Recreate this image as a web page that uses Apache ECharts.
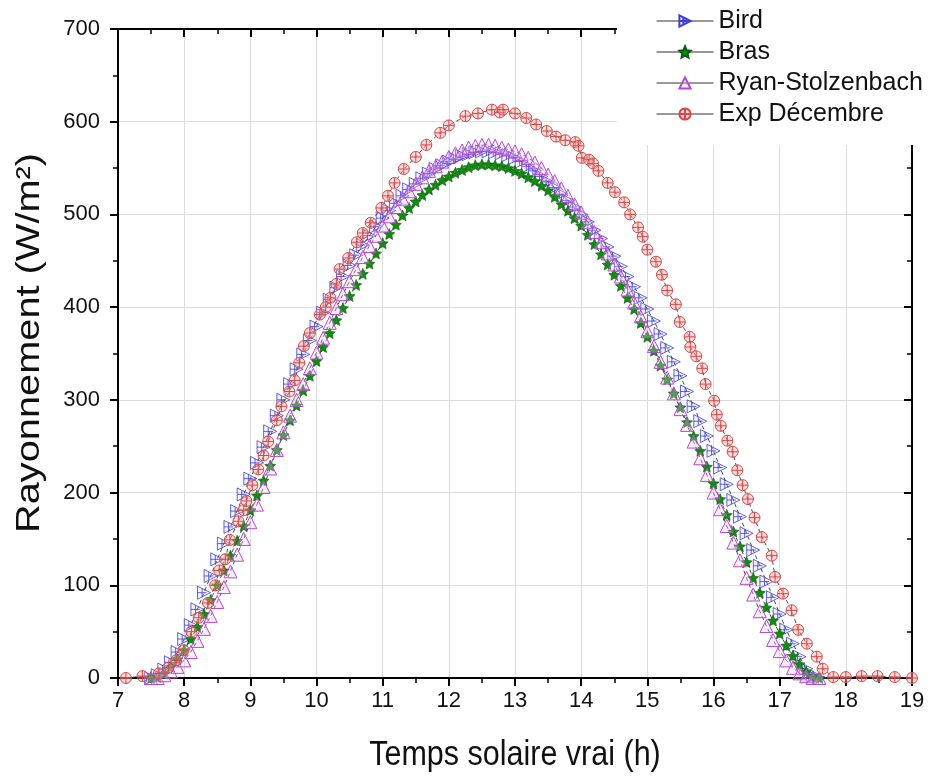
<!DOCTYPE html>
<html>
<head>
<meta charset="utf-8">
<script src="https://cdn.jsdelivr.net/npm/echarts@6/dist/echarts.min.js"></script>
<style>
html,body{margin:0;padding:0;background:#fff;}
#chart{width:928px;height:776px;}
</style>
</head>
<body>
<div id="chart"></div>
<script>
// ---- Data ----
var modelHours = [7.5,7.6,7.7,7.8,7.9,8.0,8.1,8.2,8.3,8.4,
  8.5,8.6,8.7,8.8,8.9,9.0,9.1,9.2,9.3,9.4,
  9.5,9.6,9.7,9.8,9.9,10.0,10.1,10.2,10.3,10.4,
  10.5,10.6,10.7,10.8,10.9,11.0,11.1,11.2,11.3,11.4,
  11.5,11.6,11.7,11.8,11.9,12.0,12.1,12.2,12.3,12.4,
  12.5,12.6,12.7,12.8,12.9,13.0,13.1,13.2,13.3,13.4,
  13.5,13.6,13.7,13.8,13.9,14.0,14.1,14.2,14.3,14.4,
  14.5,14.6,14.7,14.8,14.9,15.0,15.1,15.2,15.3,15.4,
  15.5,15.6,15.7,15.8,15.9,16.0,16.1,16.2,16.3,16.4,
  16.5,16.6,16.7,16.8,16.9,17.0,17.1,17.2,17.3,17.4,
  17.5,17.6];

var birdValues = [0,3,9,17,28,42,57,74,92,110,
  128,145,163,180,198,215,232,249,266,283,
  300,317,333,349,364,379,394,408,421,433,
  445,456,467,477,487,496,504,512,520,527,
  533,539,544,549,553,557,560,563,565,567,
  568,568,567,566,564,561,557,552,547,541,
  535,529,522,515,508,500,492,483,474,465,
  455,444,433,422,410,398,385,371,356,341,
  326,309,293,277,261,245,227,209,192,174,
  156,138,121,104,87,69,52,37,23,10,
  2,0];

var brasValues = [0,1,5,12,20,30,42,55,69,84,
  100,116,132,148,164,181,197,213,229,246,
  262,278,294,310,326,342,357,372,386,399,
  412,424,436,447,458,469,479,489,499,507,
  514,521,527,532,537,541,545,548,551,553,
  554,554,553,552,550,547,544,540,536,531,
  526,519,511,504,496,488,478,468,457,446,
  435,423,410,398,383,368,353,337,322,307,
  292,276,261,245,228,210,193,176,158,142,
  125,108,92,76,62,48,35,24,15,7,
  2,0];

var ryanValues = [0,0,3,7,12,19,28,40,53,67,
  82,98,115,133,150,168,187,206,226,246,
  265,283,300,317,334,351,367,383,399,414,
  428,441,454,466,477,488,498,508,517,525,
  533,540,547,552,557,562,566,569,572,574,
  575,575,574,572,570,568,565,561,556,550,
  543,536,528,520,511,502,492,481,470,458,
  446,433,419,405,390,374,358,341,324,307,
  290,273,255,237,219,200,182,164,146,127,
  108,90,72,56,41,29,19,11,5,2,
  0,0];

var expHours = [7.12,7.37,7.62,7.76,7.88,7.99,8.11,8.22,8.36,8.47,
  8.53,8.62,8.69,8.82,8.9,8.94,9.03,9.12,9.2,9.27,
  9.4,9.47,9.59,9.67,9.74,9.81,9.9,10.05,10.14,10.21,
  10.3,10.35,10.48,10.61,10.7,10.82,10.98,11.08,11.18,11.32,
  11.5,11.66,11.87,12.0,12.25,12.44,12.65,12.77,12.82,13.0,
  13.17,13.32,13.48,13.62,13.76,13.91,13.96,14.01,14.12,14.18,
  14.26,14.4,14.51,14.65,14.74,14.86,14.93,15.0,15.13,15.22,
  15.3,15.43,15.49,15.64,15.65,15.74,15.83,15.88,16.01,16.05,
  16.11,16.21,16.29,16.36,16.44,16.52,16.62,16.73,16.88,16.93,
  17.05,17.18,17.28,17.41,17.56,17.65,17.81,18.0,18.24,18.48,
  18.74,19.0];

var expValues = [0,2,5,11,19,30,50,65,81,100,
  116,128,149,169,181,191,208,225,240,255,
  278,293,309,321,340,358,372,392,400,410,
  425,441,453,470,480,491,507,520,534,549,
  562,575,588,596,606,609,613,610,613,609,
  604,597,590,584,580,578,574,561,559,555,
  547,534,524,513,500,486,476,462,449,435,
  418,403,384,368,357,347,334,317,299,284,
  272,256,244,224,208,193,173,152,132,109,
  91,73,52,37,23,10,1,1,2,2,
  1,0];

var seriesNames = ['Bird','Bras','Ryan-Stolzenbach','Exp Décembre'];
var xTickLabels = ['7','8','9','10','11','12','13','14','15','16','17','18','19'];
var yTickLabels = ['0','100','200','300','400','500','600','700'];
var xTitle = 'Temps solaire vrai (h)';
var yTitle = 'Rayonnement (W/m²)';

// ---- Build ----
function zip(xs, ys){ var out=[]; for(var i=0;i<xs.length;i++){ out.push([xs[i], ys[i]]); } return out; }

var FONT = "'Liberation Sans', Arial, sans-serif";
var symBird = 'path://M0,0 L20,10 L0,20 Z M7,3.5 L7,16.5 M0,10 L14,10';
var symStar = 'path://M10,0 L12.94,6.91 L20,7.64 L14.76,12.36 L16.18,19.51 L10,16 L3.82,19.51 L5.24,12.36 L0,7.64 L7.06,6.91 Z';
var symExp = 'path://M0,10 A10,10 0 1 1 20,10 A10,10 0 1 1 0,10 Z M10,0 L10,20 M0,10 L20,10';

var lineBase = {color:'#3a3a3a', width:0.9, type:[4,3]};

var chart = echarts.init(document.getElementById('chart'), null, {renderer:'canvas'});
var xAxisBase = {
  type:'value', min:7, max:19, interval:1,
  axisLine:{show:true, onZero:false, lineStyle:{color:'#000', width:2}},
  minorTick:{show:true, splitNumber:2, length:5, lineStyle:{color:'#000', width:1.5}}
};
var yAxisBase = {
  type:'value', min:0, max:700, interval:100,
  axisLine:{show:true, onZero:false, lineStyle:{color:'#000', width:2}},
  minorTick:{show:true, splitNumber:2, length:5, lineStyle:{color:'#000', width:1.5}}
};

var option = {
  animation:false,
  backgroundColor:'#fff',
  grid:{left:118, right:16, top:29, bottom:98, containLabel:false},
  xAxis:[
    Object.assign({}, xAxisBase, {
      position:'bottom',
      axisTick:{show:true, inside:false, length:8, lineStyle:{color:'#000', width:2}},
      axisLabel:{show:true, margin:12, fontFamily:FONT, fontSize:22, color:'#111',
        formatter:function(v){ var i = Math.round(v-7); return xTickLabels[i] !== undefined ? xTickLabels[i] : ''; }},
      splitLine:{show:true, lineStyle:{color:'#dcdcdc', width:1}}
    }),
    Object.assign({}, xAxisBase, {
      position:'top',
      axisTick:{show:true, inside:true, length:8, lineStyle:{color:'#000', width:2}},
      axisLabel:{show:false},
      splitLine:{show:false}
    })
  ],
  yAxis:[
    Object.assign({}, yAxisBase, {
      position:'left',
      axisTick:{show:true, inside:false, length:8, lineStyle:{color:'#000', width:2}},
      axisLabel:{show:true, margin:18, fontFamily:FONT, fontSize:22, color:'#111',
        formatter:function(v){ var i = Math.round(v/100); return yTickLabels[i] !== undefined ? yTickLabels[i] : ''; }},
      splitLine:{show:true, lineStyle:{color:'#dcdcdc', width:1}}
    }),
    Object.assign({}, yAxisBase, {
      position:'right',
      axisTick:{show:true, inside:true, length:8, lineStyle:{color:'#000', width:2}},
      axisLabel:{show:false},
      splitLine:{show:false}
    })
  ],
  graphic:[
    {type:'rect', left:617, top:0, z:100, shape:{width:311, height:145}, style:{fill:'#fff'}},
    {type:'text', x:515, y:755, scaleY:1.17, z:120,
      style:{text:xTitle, font:"30.5px 'Liberation Sans', Arial, sans-serif", fill:'#111', align:'center', verticalAlign:'middle'}},
    {type:'text', x:30, y:343, rotation:Math.PI/2, scaleX:1.17, z:120,
      style:{text:yTitle, font:"34px 'Liberation Sans', Arial, sans-serif", fill:'#111', align:'center', verticalAlign:'middle'}}
  ],
  legend:{
    z:110,
    orient:'vertical', left:651, top:3,
    itemWidth:57, itemHeight:14, itemGap:5,
    textStyle:{fontFamily:FONT, fontSize:25, color:'#111', lineHeight:26},
    lineStyle:{type:'solid', width:1, color:'#333'},
    data:seriesNames
  },
  series:[
    {
      name:seriesNames[0], type:'line', xAxisIndex:0, yAxisIndex:0,
      data:zip(modelHours, birdValues),
      symbol:symBird, symbolSize:13, showAllSymbol:true,
      lineStyle:lineBase,
      itemStyle:{color:'rgba(180,180,255,0.15)', borderColor:'#3c3cd0', borderWidth:0.8}
    },
    {
      name:seriesNames[1], type:'line', xAxisIndex:0, yAxisIndex:0,
      data:zip(modelHours, brasValues),
      symbol:symStar, symbolSize:11, showAllSymbol:true,
      lineStyle:lineBase,
      itemStyle:{color:'#138a13', borderColor:'#0b5e0b', borderWidth:0.6}
    },
    {
      name:seriesNames[2], type:'line', xAxisIndex:0, yAxisIndex:0,
      data:zip(modelHours, ryanValues),
      symbol:'triangle', symbolSize:13, showAllSymbol:true,
      lineStyle:lineBase,
      itemStyle:{color:'rgba(240,200,250,0.3)', borderColor:'#b848d0', borderWidth:1}
    },
    {
      name:seriesNames[3], type:'line', xAxisIndex:0, yAxisIndex:0,
      data:zip(expHours, expValues),
      symbol:symExp, symbolSize:11, showAllSymbol:true,
      lineStyle:lineBase,
      itemStyle:{color:'rgba(245,170,170,0.4)', borderColor:'#d84848', borderWidth:1}
    }
  ]
};
chart.setOption(option);
</script>
</body>
</html>
